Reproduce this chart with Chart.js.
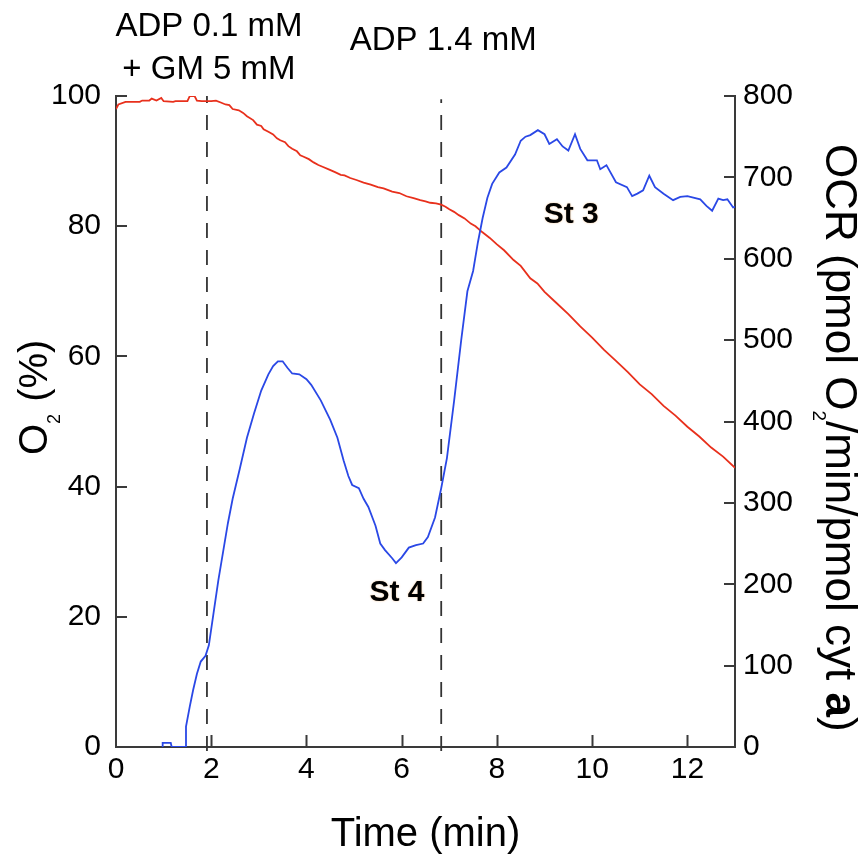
<!DOCTYPE html>
<html>
<head>
<meta charset="utf-8">
<script src="https://cdn.jsdelivr.net/npm/chart.js@4"></script>
<style>
  body { margin: 0; background: #fff; }
  #wrap { width: 866px; height: 858px; }
</style>
</head>
<body>
<div id="wrap"><canvas id="chart"></canvas></div>
<script>
// O2 trace (left axis, %)
const o2Time = [0, 0.05, 0.2, 0.5, 0.55, 0.7, 0.75, 0.85, 0.95, 1.0, 1.2, 1.25, 1.5, 1.55, 1.65, 1.7, 1.8, 2.0, 2.1,
  2.2, 2.3, 2.38, 2.45, 2.58, 2.67, 2.75, 2.88, 2.96, 3.05, 3.1, 3.2, 3.3, 3.38, 3.45, 3.55, 3.62, 3.7, 3.8, 3.87,
  3.93, 4.05, 4.15, 4.25, 4.35, 4.48, 4.6, 4.72, 4.8, 4.92, 5.05, 5.2, 5.35, 5.5, 5.62, 5.8, 5.95, 6.1, 6.25, 6.39,
  6.5, 6.6, 6.72, 6.83, 6.92, 7.0, 7.1, 7.2, 7.32, 7.45, 7.55, 7.69, 7.85, 8.0, 8.15, 8.35, 8.5, 8.7, 8.85, 9.0,
  9.25, 9.5, 9.75, 10.0, 10.25, 10.5, 10.75, 11.0, 11.25, 11.5, 11.75, 12.0, 12.25, 12.5, 12.75, 13.0];
const o2Pct = [98.0, 98.7, 99.1, 99.1, 99.3, 99.3, 99.6, 99.3, 99.7, 99.2, 99.1, 99.2, 99.2, 100.0, 100.0, 99.3, 99.2, 99.2, 99.3,
  99.0, 98.7, 98.6, 98.0, 97.8, 97.4, 96.9, 96.3, 95.6, 95.4, 94.9, 94.5, 94.1, 93.5, 93.2, 92.9, 92.3, 91.9, 91.5, 90.9,
  90.7, 90.3, 89.8, 89.4, 89.1, 88.7, 88.3, 87.9, 87.8, 87.4, 87.1, 86.7, 86.4, 86.0, 85.8, 85.3, 85.1, 84.6, 84.3, 84.0,
  83.8, 83.6, 83.5, 83.3, 83.0, 82.6, 82.2, 81.7, 81.2, 80.4, 80.0, 79.1, 78.2, 77.2, 76.3, 74.8, 73.9, 72.0, 71.2, 69.9,
  68.2, 66.5, 64.6, 62.9, 61.0, 59.3, 57.6, 55.7, 54.2, 52.4, 50.9, 49.2, 47.7, 46.0, 44.6, 42.9];

// OCR trace (right axis)
const ocrTime = [0.97, 0.98, 1.15, 1.17, 1.45, 1.47, 1.55, 1.62, 1.7, 1.78, 1.88, 1.95, 2.05, 2.15, 2.25, 2.35, 2.45,
  2.6, 2.75, 2.9, 3.05, 3.2, 3.3, 3.4, 3.5, 3.6, 3.7, 3.85, 4.0, 4.1, 4.3, 4.5, 4.65, 4.78, 4.88, 4.96, 5.1, 5.2,
  5.3, 5.45, 5.55, 5.65, 5.8, 5.88, 6.0, 6.15, 6.3, 6.45, 6.55, 6.7, 6.83, 6.95, 7.1, 7.25, 7.38, 7.5, 7.6, 7.7,
  7.8, 7.9, 8.05, 8.2, 8.38, 8.5, 8.6, 8.7, 8.86, 9.0, 9.1, 9.26, 9.38, 9.5, 9.64, 9.75, 9.9, 10.1, 10.17, 10.3,
  10.5, 10.73, 10.84, 10.95, 11.07, 11.2, 11.32, 11.5, 11.7, 11.85, 12.0, 12.27, 12.4, 12.52, 12.65, 12.75, 12.84,
  12.96, 13.0];
const ocrVal = [0, 5, 5, 0, 0, 25, 50, 70, 90, 105, 112, 125, 165, 205, 240, 275, 305,
  342, 380, 410, 438, 458, 468, 474, 474, 466, 459, 458, 452, 445, 426, 402, 380, 352, 333, 322, 318, 305,
  295, 272, 250, 242, 232, 226, 233, 245, 248, 250, 258, 282, 318, 355, 425, 500, 560, 585, 620, 650,
  675, 692, 706, 712, 728, 745, 750, 752, 758, 753, 741, 747, 738, 733, 753, 735, 721, 721, 710, 715,
  694, 688, 677, 680, 684, 702, 688, 680, 672, 676, 677, 673, 665, 659, 674, 672, 673,
  663, 664];

// additions (dashed markers)
const addTimes = [1.91, 6.83];
const addTops = [100, 99.5];
const addLabels = [["ADP 0.1 mM", "+ GM 5 mM"], ["ADP 1.4 mM"]];

// state labels
const stateLabels = ["St 4", "St 3"];
const stateTimes = [5.9, 9.56];
const stateOcr = [190, 654];

const xTickVals = [0, 2, 4, 6, 8, 10, 12];
const o2TickVals = [0, 20, 40, 60, 80, 100];
const ocrTickVals = [0, 100, 200, 300, 400, 500, 600, 700, 800];

const AXIS = '#3a3a3a';
const FONT = "'Liberation Sans', Arial, sans-serif";

function pts(xs, ys) { return xs.map((v, i) => ({ x: v, y: ys[i] })); }

const dashSets = addTimes.map((t, i) => ({
  data: [{ x: t, y: -0.6 }, { x: t, y: addTops[i] }],
  yAxisID: 'y', borderColor: '#333', borderWidth: 1.8, borderDash: [15, 12],
  pointRadius: 0, clip: false
}));

const decor = {
  id: 'decor',
  afterDraw(chart) {
    const { ctx, chartArea: a, scales } = chart;
    const x = scales.x, y = scales.y, y2 = scales.y2;
    ctx.save();
    // inward tick marks
    ctx.strokeStyle = AXIS; ctx.lineWidth = 2;
    ctx.beginPath();
    xTickVals.slice(1).forEach(v => {
      const px = Math.round(x.getPixelForValue(v)) + 0.5;
      ctx.moveTo(px, a.bottom); ctx.lineTo(px, a.bottom - 12);
    });
    o2TickVals.slice(1).forEach(v => {
      const py = Math.round(y.getPixelForValue(v));
      ctx.moveTo(a.left, py); ctx.lineTo(a.left + 11, py);
    });
    ocrTickVals.slice(1).forEach(v => {
      const py = Math.round(y2.getPixelForValue(v));
      ctx.moveTo(a.right, py); ctx.lineTo(a.right - 11, py);
    });
    ctx.stroke();

    // addition labels
    ctx.fillStyle = '#000';
    ctx.textAlign = 'center'; ctx.textBaseline = 'middle';
    ctx.font = '33px ' + FONT;
    const lineY = [[27, 70], [41]];
    addTimes.forEach((t, i) => {
      const px = x.getPixelForValue(t);
      addLabels[i].forEach((s, j) => ctx.fillText(s, px + 2, lineY[i][j]));
    });

    // state labels
    ctx.font = 'bold 30px ' + FONT;
    ctx.shadowColor = 'rgba(235,150,60,0.55)'; ctx.shadowBlur = 2;
    stateLabels.forEach((s, i) => {
      ctx.fillText(s, x.getPixelForValue(stateTimes[i]), y2.getPixelForValue(stateOcr[i]));
    });
    ctx.shadowBlur = 0; ctx.shadowColor = 'transparent';

    // x title
    ctx.font = '40px ' + FONT;
    ctx.textBaseline = 'alphabetic';
    ctx.fillText('Time (min)', (a.left + a.right) / 2, 846);

    // left title: O2 (%) rotated
    ctx.save();
    ctx.translate(47, 455);
    ctx.rotate(-Math.PI / 2);
    ctx.textAlign = 'left';
    ctx.font = '40px ' + FONT;
    ctx.fillText('O', 0, 0);
    let w = ctx.measureText('O').width;
    ctx.font = '18px ' + FONT;
    ctx.fillText('2', w, 13);
    w += ctx.measureText('2').width + 1;
    ctx.font = '40px ' + FONT;
    ctx.fillText(' (%)', w, 0);
    ctx.restore();

    // right title rotated
    ctx.save();
    ctx.translate(826, 144);
    ctx.rotate(Math.PI / 2);
    ctx.textAlign = 'left';
    const big = '44px ' + FONT;
    let cx = 0;
    const part = (txt, font, dy) => { ctx.font = font; ctx.fillText(txt, cx, dy); cx += ctx.measureText(txt).width; };
    part('OCR (pmol O', big, 0);
    part('2', '19px ' + FONT, 13);
    part('/min/pmol cyt ', big, 0);
    part('a', 'bold 44px ' + FONT, 0);
    part(')', big, 0);
    ctx.restore();

    ctx.restore();
  }
};

new Chart(document.getElementById('chart'), {
  type: 'line',
  data: {
    datasets: [
      { data: pts(ocrTime, ocrVal), yAxisID: 'y2', borderColor: '#2a48e6', borderWidth: 1.8, pointRadius: 0, tension: 0 },
      { data: pts(o2Time, o2Pct), yAxisID: 'y', borderColor: '#e8301c', borderWidth: 1.8, pointRadius: 0, tension: 0 },
      ...dashSets
    ]
  },
  options: {
    responsive: true,
    maintainAspectRatio: false,
    animation: false,
    layout: { padding: { top: 96, left: 0, right: 0, bottom: 0 } },
    plugins: { legend: { display: false }, tooltip: { enabled: false } },
    scales: {
      x: {
        type: 'linear', min: 0, max: 13,
        afterBuildTicks: s => { s.ticks = xTickVals.map(v => ({ value: v })); },
        afterFit: s => { s.height = 111; },
        grid: { display: false, drawTicks: false },
        border: { display: true, color: AXIS, width: 2 },
        ticks: { color: '#000', font: { family: FONT, size: 30 }, padding: 5, maxRotation: 0, autoSkip: false }
      },
      y: {
        position: 'left', min: 0, max: 100,
        afterBuildTicks: s => { s.ticks = o2TickVals.map(v => ({ value: v })); },
        afterFit: s => { s.width = 116; },
        grid: { display: false, drawTicks: false },
        border: { display: true, color: AXIS, width: 2 },
        ticks: { color: '#000', font: { family: FONT, size: 30 }, padding: 15 }
      },
      y2: {
        position: 'right', min: 0, max: 800,
        afterBuildTicks: s => { s.ticks = ocrTickVals.map(v => ({ value: v })); },
        afterFit: s => { s.width = 131; },
        grid: { display: false, drawTicks: false },
        border: { display: true, color: AXIS, width: 2 },
        ticks: { color: '#000', font: { family: FONT, size: 30 }, padding: 8 }
      }
    }
  },
  plugins: [decor]
});
</script>
</body>
</html>
